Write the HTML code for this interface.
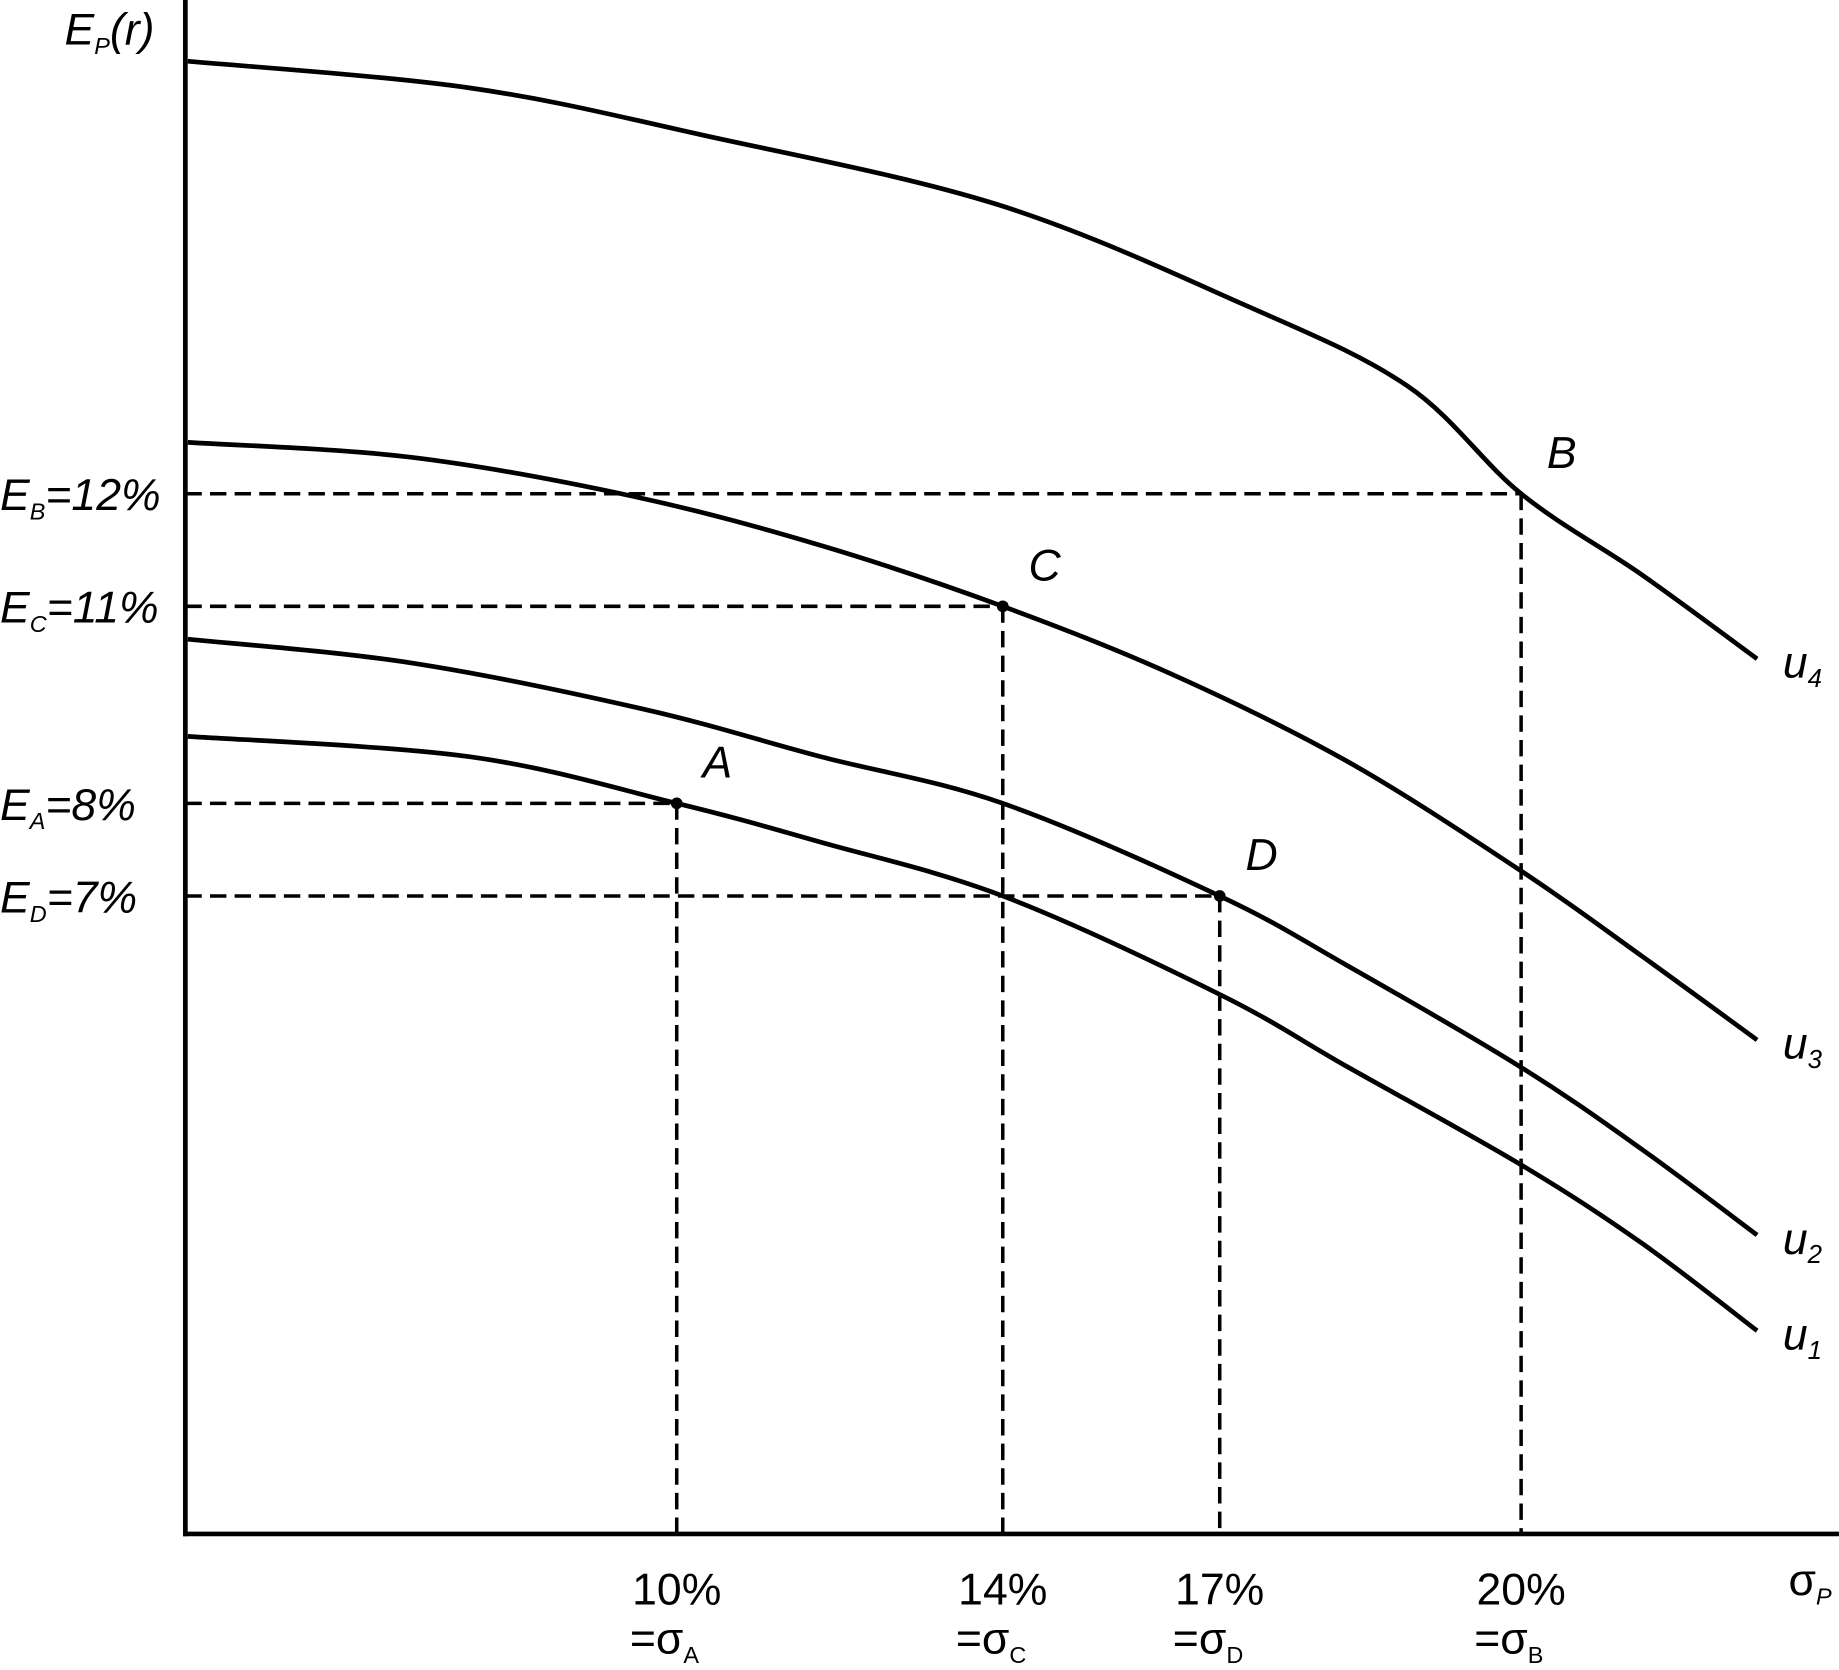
<!DOCTYPE html>
<html><head><meta charset="utf-8"><style>
html,body{margin:0;padding:0;background:#fff}
svg{display:block}
text{font-family:"Liberation Sans",sans-serif;fill:#000}
.it{font-style:italic}
</style></head><body>
<svg id="chart" width="1839" height="1670" viewBox="0 0 1568 1424" xmlns="http://www.w3.org/2000/svg">
<g id="curves"></g>
<g id="guides"></g>
<g id="pts"></g>
<line x1="158" y1="0" x2="158" y2="1310" stroke="#000" stroke-width="4"/>
<line x1="156" y1="1308" x2="1568" y2="1308" stroke="#000" stroke-width="4"/>
<text class="it" x="55" y="38" font-size="38">E<tspan font-size="20" dy="8">P</tspan><tspan dy="-8">(r)</tspan></text>
<text x="1525" y="1360" font-size="38">σ<tspan class="it" font-size="20" dy="8">P</tspan></text>
<g id="labels"></g>
</svg>
<script>
const xDomain=[0,10,14,17,20,24];
const yDomain=[0,7,8,11,12,17];
const pointNames=["A","C","D","B"];
const pointSigma=[10,14,17,20];
const pointE=[8,11,7,12];
const yTickLabels=["E_B=12%","E_C=11%","E_A=8%","E_D=7%"];
const yTickValues=[12,11,8,7];
const xTickValues=[10,14,17,20];
const xTickNames=["A","C","D","B"];
const curveNames=["u1","u2","u3","u4"];
const u1Sigma=[0.05,5.78,10,11.77,14,17,18.28,20,21.52,22.97];
const u1E=[9.02,8.71,8,7.58,7,5.92,5.12,4.05,3.19,2.23];
const u2Sigma=[0.05,4.58,9.35,11.77,14,17,18.28,20,21.52,22.97];
const u2E=[10.5,10.14,9.43,8.71,8,7,6.23,5.12,4.22,3.28];
const u3Sigma=[0.05,4.58,9.08,11.77,14,16.35,18.28,20,21.52,22.97];
const u3E=[12.52,12.37,11.98,11.54,11,9.96,8.63,7.27,6.34,5.42];
const u4Sigma=[0.05,5.78,10.33,13.93,17.23,18.87,20,21.52,22.97];
const u4E=[16.38,16.11,15.63,14.93,13.92,13.09,12,11.28,10.2];

const xRange=[158,577,855,1040,1297,1568];
const yRange=[1308,764,685,517,421,0];
function poly(d,r,v){
  let i=0;while(i<d.length-2&&v>d[i+1])i++;
  return r[i]+(v-d[i])*(r[i+1]-r[i])/(d[i+1]-d[i]);
}
const X=v=>poly(xDomain,xRange,v), Y=v=>poly(yDomain,yRange,v);
const NS="http://www.w3.org/2000/svg";
function mk(tag,attrs,parent){const e=document.createElementNS(NS,tag);for(const k in attrs)e.setAttribute(k,attrs[k]);parent.appendChild(e);return e;}
function smooth(p){
  let d="M"+p[0][0]+","+p[0][1];
  for(let i=0;i<p.length-1;i++){
    const p0=p[i-1]||p[i],p1=p[i],p2=p[i+1],p3=p[i+2]||p2;
    d+=" C"+(p1[0]+(p2[0]-p0[0])/6)+","+(p1[1]+(p2[1]-p0[1])/6)+" "+(p2[0]-(p3[0]-p1[0])/6)+","+(p2[1]-(p3[1]-p1[1])/6)+" "+p2[0]+","+p2[1];
  }
  return d;
}
const cg=document.getElementById("curves"),lg=document.getElementById("labels");
const series=[[u1Sigma,u1E],[u2Sigma,u2E],[u3Sigma,u3E],[u4Sigma,u4E]];
series.forEach((s,k)=>{
  const pts=s[0].map((v,i)=>[X(v),Y(s[1][i])]);
  const p=mk("path",{d:smooth(pts),fill:"none",stroke:"#000","stroke-width":4},cg);
  
  
  const last=pts[pts.length-1];
  const t=mk("text",{x:last[0]+22,y:last[1]+16,"font-size":38,class:"it"},lg);
  
  
  t.innerHTML=curveNames[k][0]+'<tspan font-size="22" dy="8">'+curveNames[k].slice(1)+'</tspan>';
});
const gg=document.getElementById("guides"),pg=document.getElementById("pts");
pointNames.forEach((n,i)=>{
  const x=X(pointSigma[i]),y=Y(pointE[i]);
  const h=mk("line",{x1:158,y1:y,x2:x,y2:y,stroke:"#000","stroke-width":3,"stroke-dasharray":"14 7"},gg);
  
  
  const v=mk("line",{x1:x,y1:y,x2:x,y2:1308,stroke:"#000","stroke-width":3,"stroke-dasharray":"14 7"},gg);
  
  
  if(n!=="B"){
    const c=mk("circle",{cx:x,cy:y,r:5,fill:"#000"},pg);
    
    
  }
  const t=mk("text",{x:x+22,y:y-22,"font-size":38,class:"it"},lg);
  
  
  t.textContent=n;
});
yTickValues.forEach((v,i)=>{
  const lab=yTickLabels[i];
  const t=mk("text",{x:0,y:Y(v)+14,"font-size":38,class:"it"},lg);
  
  
  t.innerHTML='E<tspan font-size="20" dy="8">'+lab[2]+'</tspan><tspan dy="-8">'+lab.slice(3)+'</tspan>';
});
xTickValues.forEach((v,i)=>{
  const x=X(v);
  const t=mk("text",{x:x,y:1368,"font-size":38,"text-anchor":"middle"},lg);
  
  
  t.textContent=v+"%";
  const t2=mk("text",{x:x-40,y:1410,"font-size":38},lg);
  
  
  t2.innerHTML='=σ<tspan font-size="20" dy="8">'+xTickNames[i]+'</tspan>';
});
</script>
</body></html>
